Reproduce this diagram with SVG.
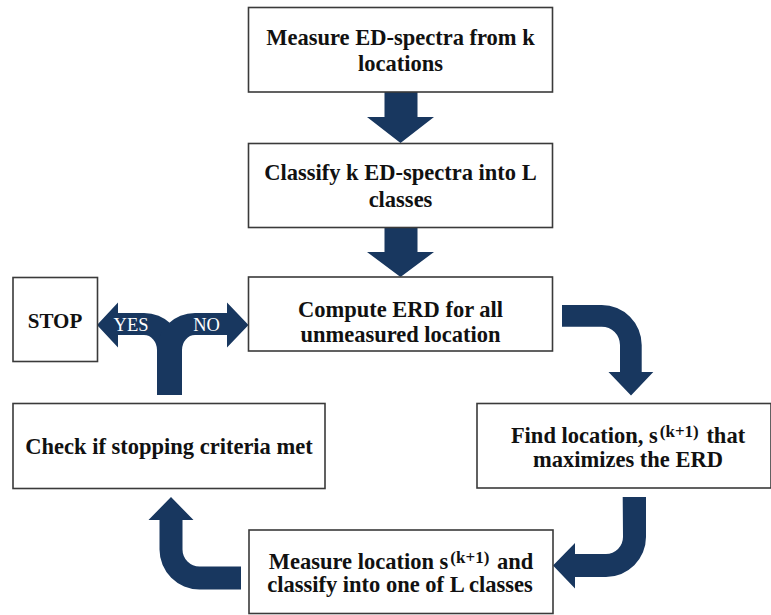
<svg xmlns="http://www.w3.org/2000/svg" width="771" height="615" viewBox="0 0 771 615">
<style>
.box{fill:#ffffff;stroke:#3a3a3a;stroke-width:1.6}
.t{font-family:'Liberation Serif','DejaVu Serif',serif;font-weight:bold;font-size:22.5px;fill:#111111;text-anchor:middle}
.sup{font-size:17px}
.arr{fill:#18375f}
.lbl{font-family:'Liberation Serif','DejaVu Serif',serif;font-size:18.5px;fill:#ffffff;text-anchor:middle}
</style>
<rect width="771" height="615" fill="#ffffff"/>
<g id="connectors">
  <path class="arr" d="M384.5,92 H417.5 V117 H434 L400.5,143 L367,117 H384.5 Z"/>
  <path class="arr" d="M384.5,227 H417.5 V252 H434 L400.5,277 L367,252 H384.5 Z"/>
  <path class="arr" d="M562,305 H601.7 A40,40 0 0 1 641.7,345 V372 H653.3 L631,395.5 L608.5,372 H620 V345 A18.3,18.3 0 0 0 601.7,326.7 H562 Z"/>
  <path class="arr" d="M622.7,497 H646 V537 A40,40 0 0 1 606,577 H575 V588.5 L553,565.5 L575,543 V554 H606 A17,17 0 0 0 623,537 Z"/>
  <path class="arr" d="M241,566.5 H199.5 A17,17 0 0 1 182.5,549.5 V520 H193.5 L171,497 L148.5,520 H159.5 V549.5 A40,40 0 0 0 199.5,589.5 H241 Z"/>
  <g id="decision">
    <path class="arr" d="M157,395 V350 A13,15 0 0 0 144,335 H118 V347.5 L97,325 L118,302.5 V313 H144 A38,37 0 0 1 182,350 V395 Z"/>
    <path class="arr" d="M182,395 V350 A13,15 0 0 1 195,335 H227 V347.5 L248.5,325 L227,302.5 V313 H195 A38,37 0 0 0 157,350 V395 Z"/>
    <text class="lbl" x="131" y="331">YES</text>
    <text class="lbl" x="206.5" y="331">NO</text>
  </g>
</g>
<g id="n1">
  <rect class="box" x="248.5" y="7.5" width="304" height="84.5"/>
  <text class="t" x="400.5" y="45">Measure ED-spectra from k</text>
  <text class="t" x="400.5" y="71">locations</text>
</g>
<g id="n2">
  <rect class="box" x="248.5" y="143.5" width="304" height="84"/>
  <text class="t" x="400.5" y="180">Classify k ED-spectra into L</text>
  <text class="t" x="400.5" y="207">classes</text>
</g>
<g id="n3">
  <rect class="box" x="248.5" y="277" width="304" height="74"/>
  <text class="t" x="400.5" y="317">Compute ERD for all</text>
  <text class="t" x="400.5" y="341.5">unmeasured location</text>
</g>
<g id="stop">
  <rect class="box" x="13" y="277.5" width="84.5" height="84"/>
  <text class="t" style="font-size:21px" x="55" y="328">STOP</text>
</g>
<g id="n4">
  <rect class="box" x="477" y="403.5" width="294" height="84.5"/>
  <text class="t" x="628" y="443">Find location, s<tspan class="sup" dx="2" dy="-6">(k+1)</tspan><tspan dx="2" dy="6"> that</tspan></text>
  <text class="t" x="628" y="467">maximizes the ERD</text>
</g>
<g id="n5">
  <rect class="box" x="249" y="530" width="304" height="83.5"/>
  <text class="t" x="401" y="569">Measure location s<tspan class="sup" dx="2" dy="-6">(k+1)</tspan><tspan dx="2" dy="6"> and</tspan></text>
  <text class="t" x="400" y="592">classify into one of L classes</text>
</g>
<g id="n6">
  <rect class="box" x="13" y="403.5" width="312" height="85"/>
  <text class="t" x="169" y="454">Check if stopping criteria met</text>
</g>
</svg>
